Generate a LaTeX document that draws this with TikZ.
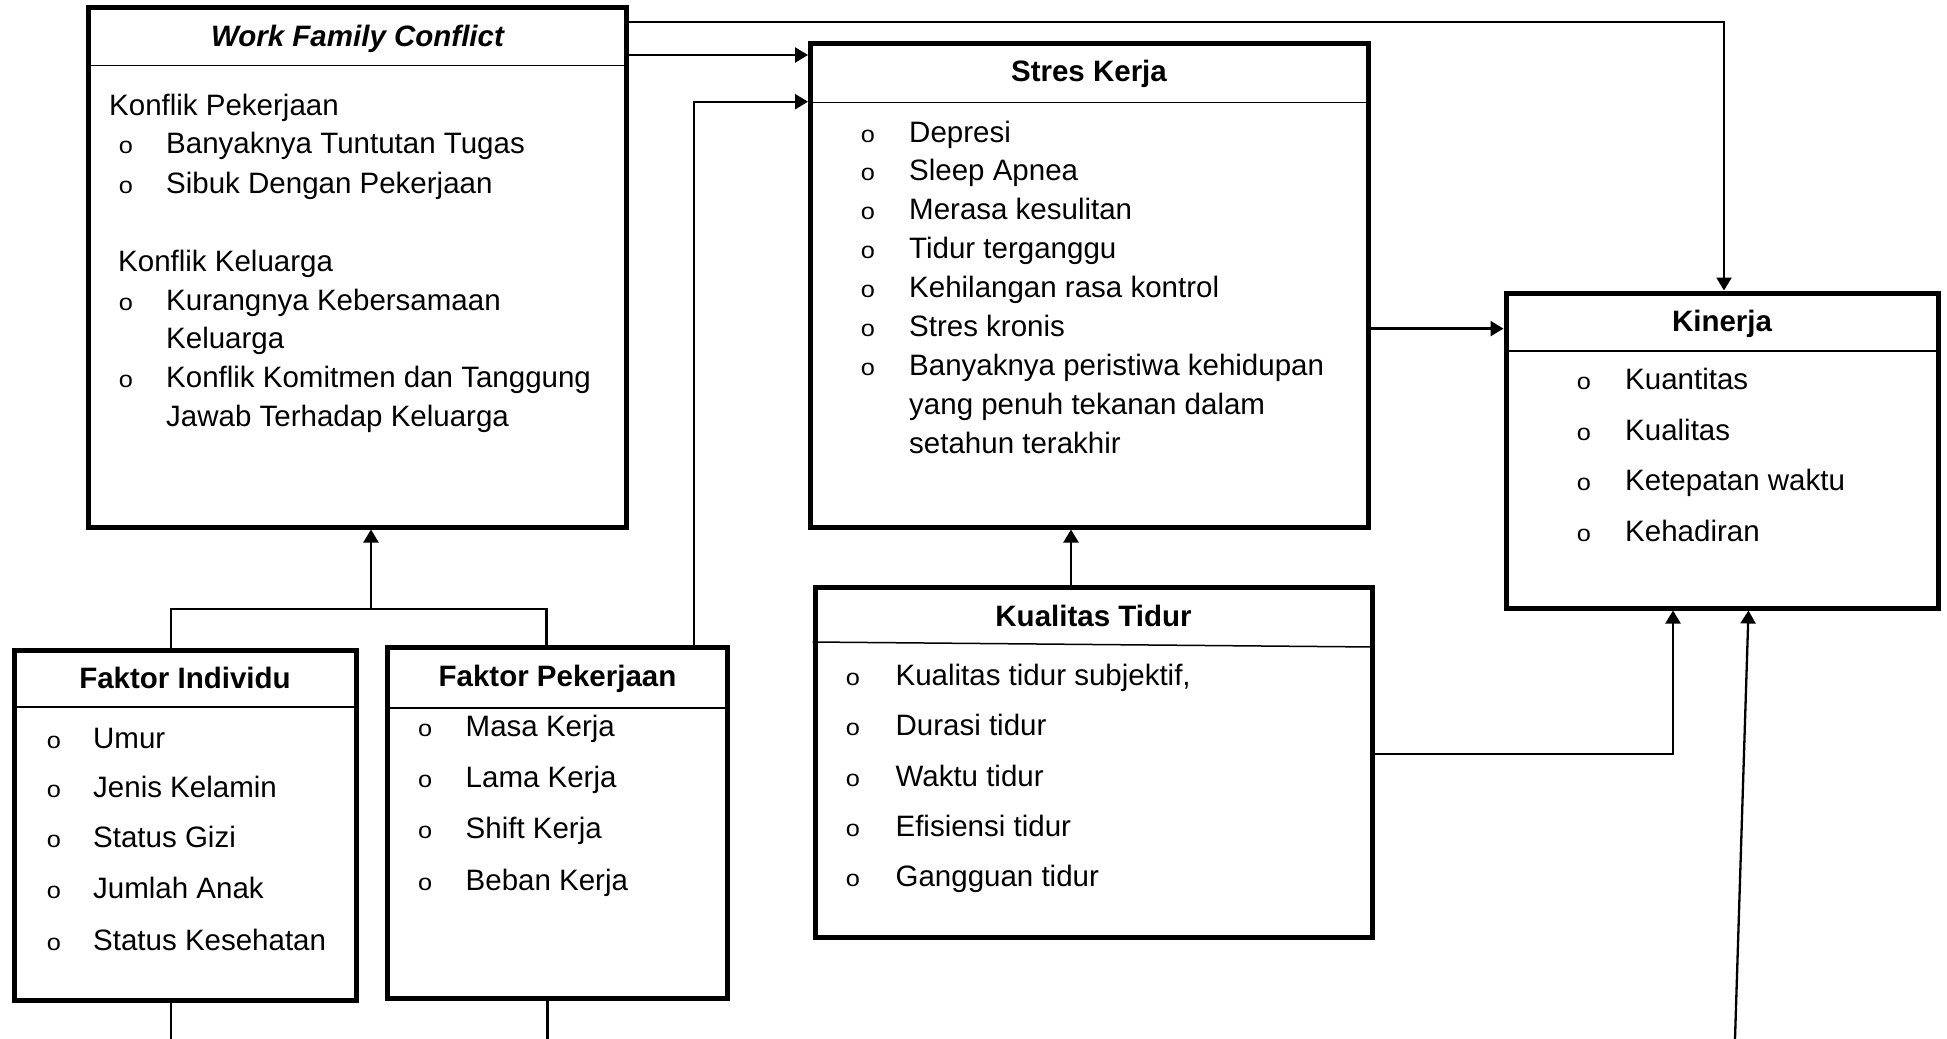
\documentclass[tikz,border=0pt]{standalone}
\usepackage{fontspec}
\setmainfont{Liberation Sans}
\usetikzlibrary{arrows.meta}
\newcommand{\bodyfnt}{\fontsize{29.5}{35}\selectfont}
\newcommand{\bulfnt}{\fontsize{23}{27}\selectfont}
\newcommand{\bulo}{\scalebox{1.1}[1]{o}}
\begin{document}
\begin{tikzpicture}[x=1pt,y=-1pt,
  boxn/.style={draw, rectangle, line width=5pt, inner sep=0pt},
  hdr/.style={line width=1.5pt},
  conn/.style={line width=2.3pt},
  arr/.style={conn, -{Triangle[length=13pt,width=15pt]}},
  txt/.style={anchor=base west, inner sep=0pt, font=\bodyfnt},
  bul/.style={anchor=base, inner sep=0pt, font=\bulfnt},
  ttl/.style={anchor=base, inner sep=0pt, font=\bodyfnt\bfseries}
]
\useasboundingbox (0,0) rectangle (1947,1039);

% ---------- boxes ----------
\node[boxn, minimum width=538pt, minimum height=519.5pt] (wfc) at (357.5,267.25) {};
\node[boxn, minimum width=557.5pt, minimum height=484pt] (stres) at (1089.25,285) {};
\node[boxn, minimum width=432pt, minimum height=315pt] (kin) at (1722,450.5) {};
\node[boxn, minimum width=342.7pt, minimum height=350.7pt] (fi) at (185.35,825.35) {};
\node[boxn, minimum width=340pt, minimum height=351pt] (fp) at (557.5,823.2) {};
\node[boxn, minimum width=557pt, minimum height=350pt] (kt) at (1093.5,762) {};

% ---------- header lines ----------
\coordinate (h1) at (0,65.5);
\coordinate (h2) at (0,102.5);
\coordinate (h3) at (0,351);
\coordinate (h4) at (0,707);
\coordinate (h5) at (0,708);
\coordinate (h6a) at (0,642);
\coordinate (h6b) at (0,647);
\draw[hdr] (wfc.west |- h1) -- (wfc.east |- h1);
\draw[hdr] (stres.west |- h2) -- (stres.east |- h2);
\draw[hdr] (kin.west |- h3) -- (kin.east |- h3);
\draw[hdr] (fi.west |- h4) -- (fi.east |- h4);
\draw[hdr] (fp.west |- h5) -- (fp.east |- h5);
\draw[hdr] (kt.west |- h6a) -- (kt.east |- h6b);

% ---------- titles ----------
\node[ttl] (twfc) at (357.5,46.4) {\itshape Work Family Conflict};
\node[ttl] (tstres) at (1089,81.4) {Stres Kerja};
\node[ttl] (tkin) at (1722,331.7) {Kinerja};
\node[ttl] (tfi) at (185,688.3) {Faktor Individu};
\node[ttl] (tfp) at (557.5,686) {Faktor Pekerjaan};
\node[ttl] (tkt) at (1093.5,626.7) {Kualitas Tidur};

% ---------- WFC text ----------
\node[txt] (w1) at (109,115) {Konflik Pekerjaan};
\node[bul] (wb2) at (126,153.6) {\bulo};
\node[txt] (w2) at (166,153.6) {Banyaknya Tuntutan Tugas};
\node[bul] (wb3) at (126,193) {\bulo};
\node[txt] (w3) at (166,193) {Sibuk Dengan Pekerjaan};
\node[txt] (w4) at (118,271) {Konflik Keluarga};
\node[bul] (wb5) at (126,310) {\bulo};
\node[txt] (w5) at (166,310) {Kurangnya Kebersamaan};
\node[txt] (w6) at (166,348.5) {Keluarga};
\node[bul] (wb7) at (126,387.5) {\bulo};
\node[txt] (w7) at (166,387.5) {Konflik Komitmen dan Tanggung};
\node[txt] (w8) at (166,426) {Jawab Terhadap Keluarga};

% ---------- Stres Kerja text ----------
\foreach \yy/\tt [count=\i] in {142/Depresi, 180.5/Sleep Apnea, 219.5/Merasa kesulitan, 258/Tidur terganggu, 297/Kehilangan rasa kontrol, 336/Stres kronis, 375/Banyaknya peristiwa kehidupan}{
  \node[bul] (sb\i) at (868,\yy) {\bulo};
  \node[txt] (s\i) at (909,\yy) {\tt};
}
\node[txt] (s8) at (909,414) {yang penuh tekanan dalam};
\node[txt] (s9) at (909,453) {setahun terakhir};

% ---------- Kinerja text ----------
\foreach \yy/\tt [count=\i] in {389/Kuantitas, 440/Kualitas, 490.5/Ketepatan waktu, 541.5/Kehadiran}{
  \node[bul] (kb\i) at (1584,\yy) {\bulo};
  \node[txt] (k\i) at (1625,\yy) {\tt};
}

% ---------- Faktor Individu text ----------
\foreach \yy/\tt [count=\i] in {748.3/Umur, 797.7/Jenis Kelamin, 847.3/Status Gizi, 898.3/Jumlah Anak, 950/Status Kesehatan}{
  \node[bul] (fib\i) at (54,\yy) {\bulo};
  \node[txt] (fit\i) at (93,\yy) {\tt};
}

% ---------- Faktor Pekerjaan text ----------
\foreach \yy/\tt [count=\i] in {736.7/Masa Kerja, 787.7/Lama Kerja, 838.3/Shift Kerja, 890/Beban Kerja}{
  \node[bul] (fpb\i) at (425.2,\yy) {\bulo};
  \node[txt] (fpt\i) at (465.5,\yy) {\tt};
}

% ---------- Kualitas Tidur text ----------
\foreach \yy/\tt [count=\i] in {685/{Kualitas tidur subjektif,}, 735/Durasi tidur, 786/Waktu tidur, 836/Efisiensi tidur, 886.7/Gangguan tidur}{
  \node[bul] (ktb\i) at (853,\yy) {\bulo};
  \node[txt] (ktt\i) at (895.4,\yy) {\tt};
}

% ---------- connectors ----------
\coordinate (c1) at (1724,22.3);
\draw[arr] (wfc.east |- c1) -| (kin.north -| c1);
\coordinate (c2) at (0,55);
\draw[arr] (wfc.east |- c2) -- (stres.west |- c2);
\coordinate (c3) at (694,101.7);
\draw[arr] (fp.north -| c3) |- (stres.west |- c3);
\coordinate (c4) at (0,328.6);
\draw[arr] (stres.east |- c4) -- (kin.west |- c4);
\coordinate (c5) at (1071,0);
\draw[arr] (kt.north -| c5) -- (stres.south -| c5);
\coordinate (c6) at (1673,754);
\draw[arr] (kt.east |- c6) -| (kin.south -| c6);
\coordinate (c7) at (1735,1039);
\coordinate (c8) at (1748.5,0);
\draw[arr] (c7) -- (kin.south -| c8);
\coordinate (c9) at (371,609);
\coordinate (c10) at (171,609);
\coordinate (c11) at (546.5,609);
\draw[arr] (c9) -- (wfc.south -| c9);
\draw[conn] (fi.north -| c10) -- (c10) -- (c11) -- (fp.north -| c11);
\coordinate (c12) at (171,1039);
\coordinate (c13) at (547.5,1039);
\draw[conn] (fi.south -| c12) -- (c12);
\draw[conn] (fp.south -| c13) -- (c13);
\end{tikzpicture}
\end{document}
